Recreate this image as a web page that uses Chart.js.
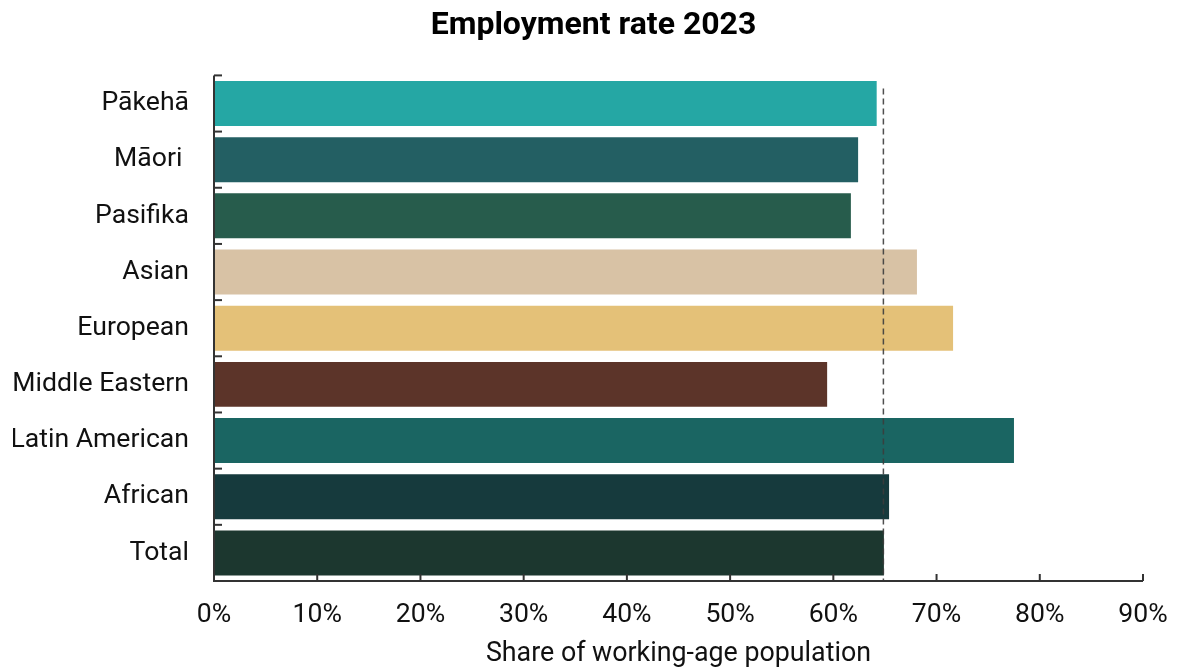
<!DOCTYPE html>
<html><head><meta charset="utf-8">
<script src="https://cdn.jsdelivr.net/npm/chart.js@4"></script>
<style>html,body{margin:0;padding:0;background:#fff}#wrap{width:1178px;height:670px}</style>
</head><body><div id="wrap"><canvas id="c" width="1178" height="670"></canvas></div>
<script>
const categories = ["Pākehā", "Māori ", "Pasifika", "Asian", "European", "Middle Eastern", "Latin American", "African", "Total"];
const employmentRate = [64.2, 62.4, 61.7, 68.1, 71.6, 59.4, 77.5, 65.4, 64.9];
const barColors = ["#25A7A4", "#235F63", "#275C4C", "#D8C2A5", "#E4C178", "#5C3429", "#1A6562", "#163A3D", "#1C372F"];
const totalReference = 64.85;
const xTicks = [0, 10, 20, 30, 40, 50, 60, 70, 80, 90];

const tickPlugin = {
  id: 'innerTicks',
  afterDatasetsDraw(chart) {
    const ctx = chart.ctx, x = chart.scales.x, y = chart.scales.y, a = chart.chartArea;
    ctx.save();
    const xr = x.getPixelForValue(totalReference);
    ctx.strokeStyle = 'rgba(60,60,60,0.9)';
    ctx.lineWidth = 1.5;
    ctx.setLineDash([6, 4]);
    ctx.beginPath();
    ctx.moveTo(xr, a.top + 13);
    ctx.lineTo(xr, a.bottom);
    ctx.stroke();
    ctx.setLineDash([]);
    ctx.strokeStyle = '#333';
    ctx.lineWidth = 2;
    ctx.beginPath();
    ctx.moveTo(a.left, a.top);
    ctx.lineTo(a.left, a.bottom);
    ctx.lineTo(a.right, a.bottom);
    ctx.stroke();
    const n = categories.length;
    for (let i = 0; i <= n; i++) {
      let yy;
      if (i === 0) yy = a.top;
      else if (i === n) yy = a.bottom;
      else yy = (y.getPixelForValue(i - 1) + y.getPixelForValue(i)) / 2;
      ctx.beginPath();
      ctx.moveTo(a.left, yy);
      ctx.lineTo(a.left + 8, yy);
      ctx.stroke();
    }
    xTicks.forEach(v => {
      const xx = x.getPixelForValue(v);
      ctx.beginPath();
      ctx.moveTo(xx, a.bottom);
      ctx.lineTo(xx, a.bottom - 7);
      ctx.stroke();
    });
    ctx.restore();
  }
};

new Chart(document.getElementById('c'), {
  type: 'bar',
  data: {
    labels: categories,
    datasets: [{
      data: employmentRate,
      backgroundColor: barColors,
      borderWidth: 0,
      categoryPercentage: 1.0,
      barPercentage: 0.8
    }]
  },
  options: {
    indexAxis: 'y',
    responsive: false,
    animation: false,
    layout: { padding: { left: 13, right: 4, top: 0, bottom: 0 } },
    plugins: {
      legend: { display: false },
      tooltip: { enabled: false },
      title: {
        display: true,
        text: 'Employment rate 2023',
        color: '#000',
        font: { family: 'Roboto', size: 32, weight: 'bold' },
        padding: { top: 7, bottom: 30 }
      }
    },
    scales: {
      x: {
        min: 0, max: 90,
        afterBuildTicks(s) { s.ticks = xTicks.map(v => ({ value: v })); },
        afterFit(s) { s.height = 89; s.paddingRight = 35; s.paddingLeft = 0; },
        ticks: {
          callback: v => v + '%',
          color: '#111',
          font: { family: 'Roboto', size: 26.6 },
          padding: 18,
          maxRotation: 0
        },
        grid: { display: false, drawTicks: false },
        border: { display: false },
        title: {
          display: true,
          text: 'Share of working-age population',
          color: '#111',
          font: { family: 'Roboto', size: 26.8 },
          padding: { top: 10, bottom: 0 }
        }
      },
      y: {
        afterFit(s) { s.width = 201; },
        ticks: {
          color: '#111',
          font: { family: 'Roboto', size: 26.6 },
          padding: 25
        },
        grid: { display: false, drawTicks: false },
        border: { display: false }
      }
    }
  },
  plugins: [tickPlugin]
});
</script>
</body></html>
